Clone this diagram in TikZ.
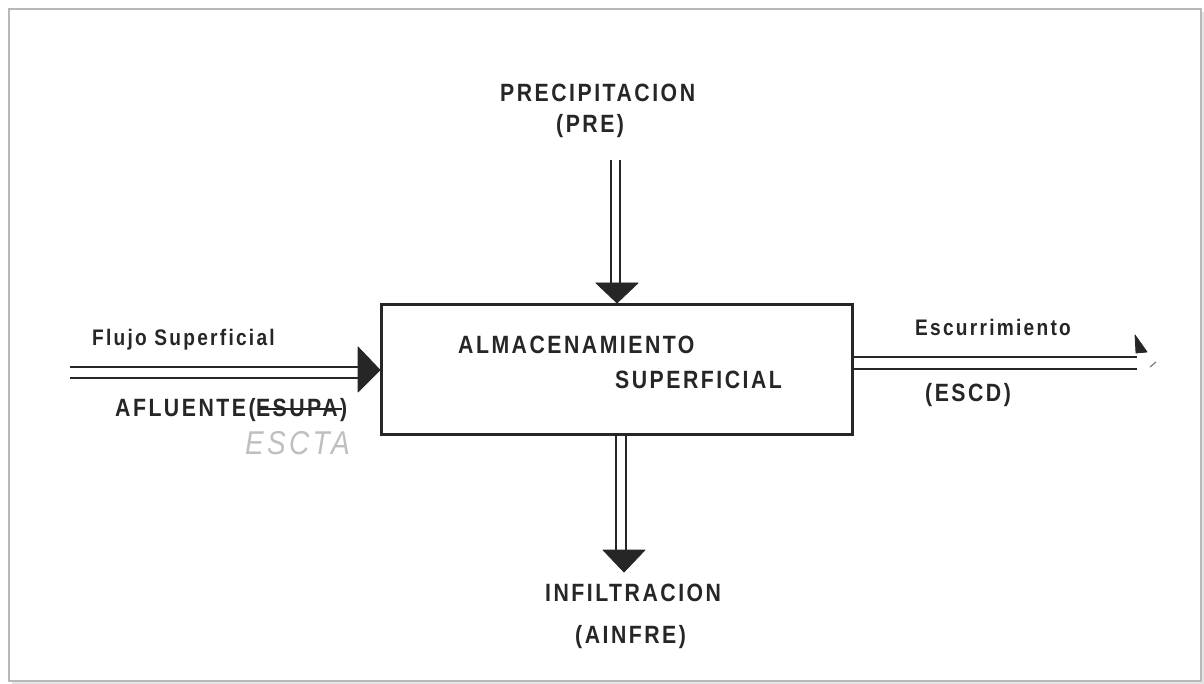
\documentclass[tikz,border=0pt]{standalone}
\usepackage{fontspec}
\usetikzlibrary{calc}
\setmainfont{Liberation Sans}[FakeStretch=0.85, LetterSpace=10]
\tikzset{
  frameline/.style={draw=black!28, line width=2.2pt},
  wall/.style={draw=black!85, line width=2.6pt},
  pipe/.style={draw=black!85, line width=2.8pt},
  tip/.style={fill=black!85, draw=black!85, line width=0.8pt, line join=round},
  lab/.style={inner sep=0pt, text=black!85, font=\fontsize{25}{28}\selectfont\bfseries},
  labl/.style={lab, anchor=west},
  small/.style={labl, font=\fontsize{22.5}{25}\selectfont\bfseries},
  scrawl/.style={labl, text=black!25, font=\fontsize{33}{35}\selectfont\itshape}
}
\begin{document}
\begin{tikzpicture}[x=1pt,y=-1pt]
\useasboundingbox (0,0) rectangle (1204,684);
% page frame with a soft shadow
\fill[black!10] (12,12) rectangle (1204,684);
\fill[white] (9,9) rectangle (1201,681);
\draw[frameline] (9,9) rectangle (1201,681);

% storage box
\node[wall, minimum width=471pt, minimum height=130pt, anchor=north west, inner sep=0pt] (store) at (380,303) {};
\node[labl] (alm) at (458,345) {ALMACENAMIENTO};
\node[labl] (sup) at (615,380) {SUPERFICIAL};

% precipitation inflow (top)
\node[labl] (pre) at (500,93) {PRECIPITACION};
\node[labl] (prec) at (556,126) {(PRE)};
\coordinate (preA) at (611,160);
\coordinate (preB) at (620,160);
\coordinate (preHead) at (617,283);
\draw[pipe] (preA) -- (preA |- preHead);
\draw[pipe] (preB) -- (preB |- preHead);
\fill[tip] ($(preHead)+(-21,0)$) -- ($(preHead)+(21,0)$) -- (preHead |- store.north) -- cycle;

% infiltration outflow (bottom)
\coordinate (infA) at (616,433);
\coordinate (infB) at (626,433);
\coordinate (infHead) at (624,550);
\draw[pipe] (infA) -- (infA |- infHead);
\draw[pipe] (infB) -- (infB |- infHead);
\fill[tip] ($(infHead)+(-21,0)$) -- ($(infHead)+(21,0)$) -- ($(infHead)+(0,22)$) -- cycle;
\node[labl] (inf) at (545,593) {INFILTRACION};
\node[labl] (infc) at (575,637) {(AINFRE)};

% surface inflow (left)
\coordinate (flA) at (70,367);
\coordinate (flB) at (70,378);
\coordinate (flHead) at (358,370);
\draw[pipe] (flA) -- (flA -| flHead);
\draw[pipe] (flB) -- (flB -| flHead);
\fill[tip] ($(flHead)+(0,-23)$) -- ($(flHead)+(0,22)$) -- (store.west |- flHead) -- cycle;
\node[small] (flujo) at (92,340) {Flujo Superficial};
\node[labl] (afl) at (115,410) {AFLUENTE(};
\node[labl] (esupa) at (afl.east) {ESUPA)};
\draw[black!85, line width=1.8pt] ($(esupa.west)+(2,-1)$) -- ($(esupa.east)+(-5,-1)$);
\node[scrawl] (escta) at (245,443) {ESCTA};

% runoff outflow (right)
\coordinate (esA) at (store.east |- 0,357);
\coordinate (esB) at (store.east |- 0,369);
\coordinate (esEnd) at (1137,357);
\draw[pipe] (esA) -- (esEnd);
\draw[pipe] (esB) -- (esB -| esEnd);
\fill[tip] ($(esEnd)+(-2,-22)$) -- ($(esEnd)+(10,-5)$) -- ($(esEnd)+(-1,-4)$) -- cycle;
\draw[black!50, line width=1.2pt] ($(esEnd)+(13,10)$) -- ($(esEnd)+(19,5)$);
\node[small] (escu) at (915,327) {Escurrimiento};
\node[labl] (escd) at (925,395) {(ESCD)};
\end{tikzpicture}
\end{document}
